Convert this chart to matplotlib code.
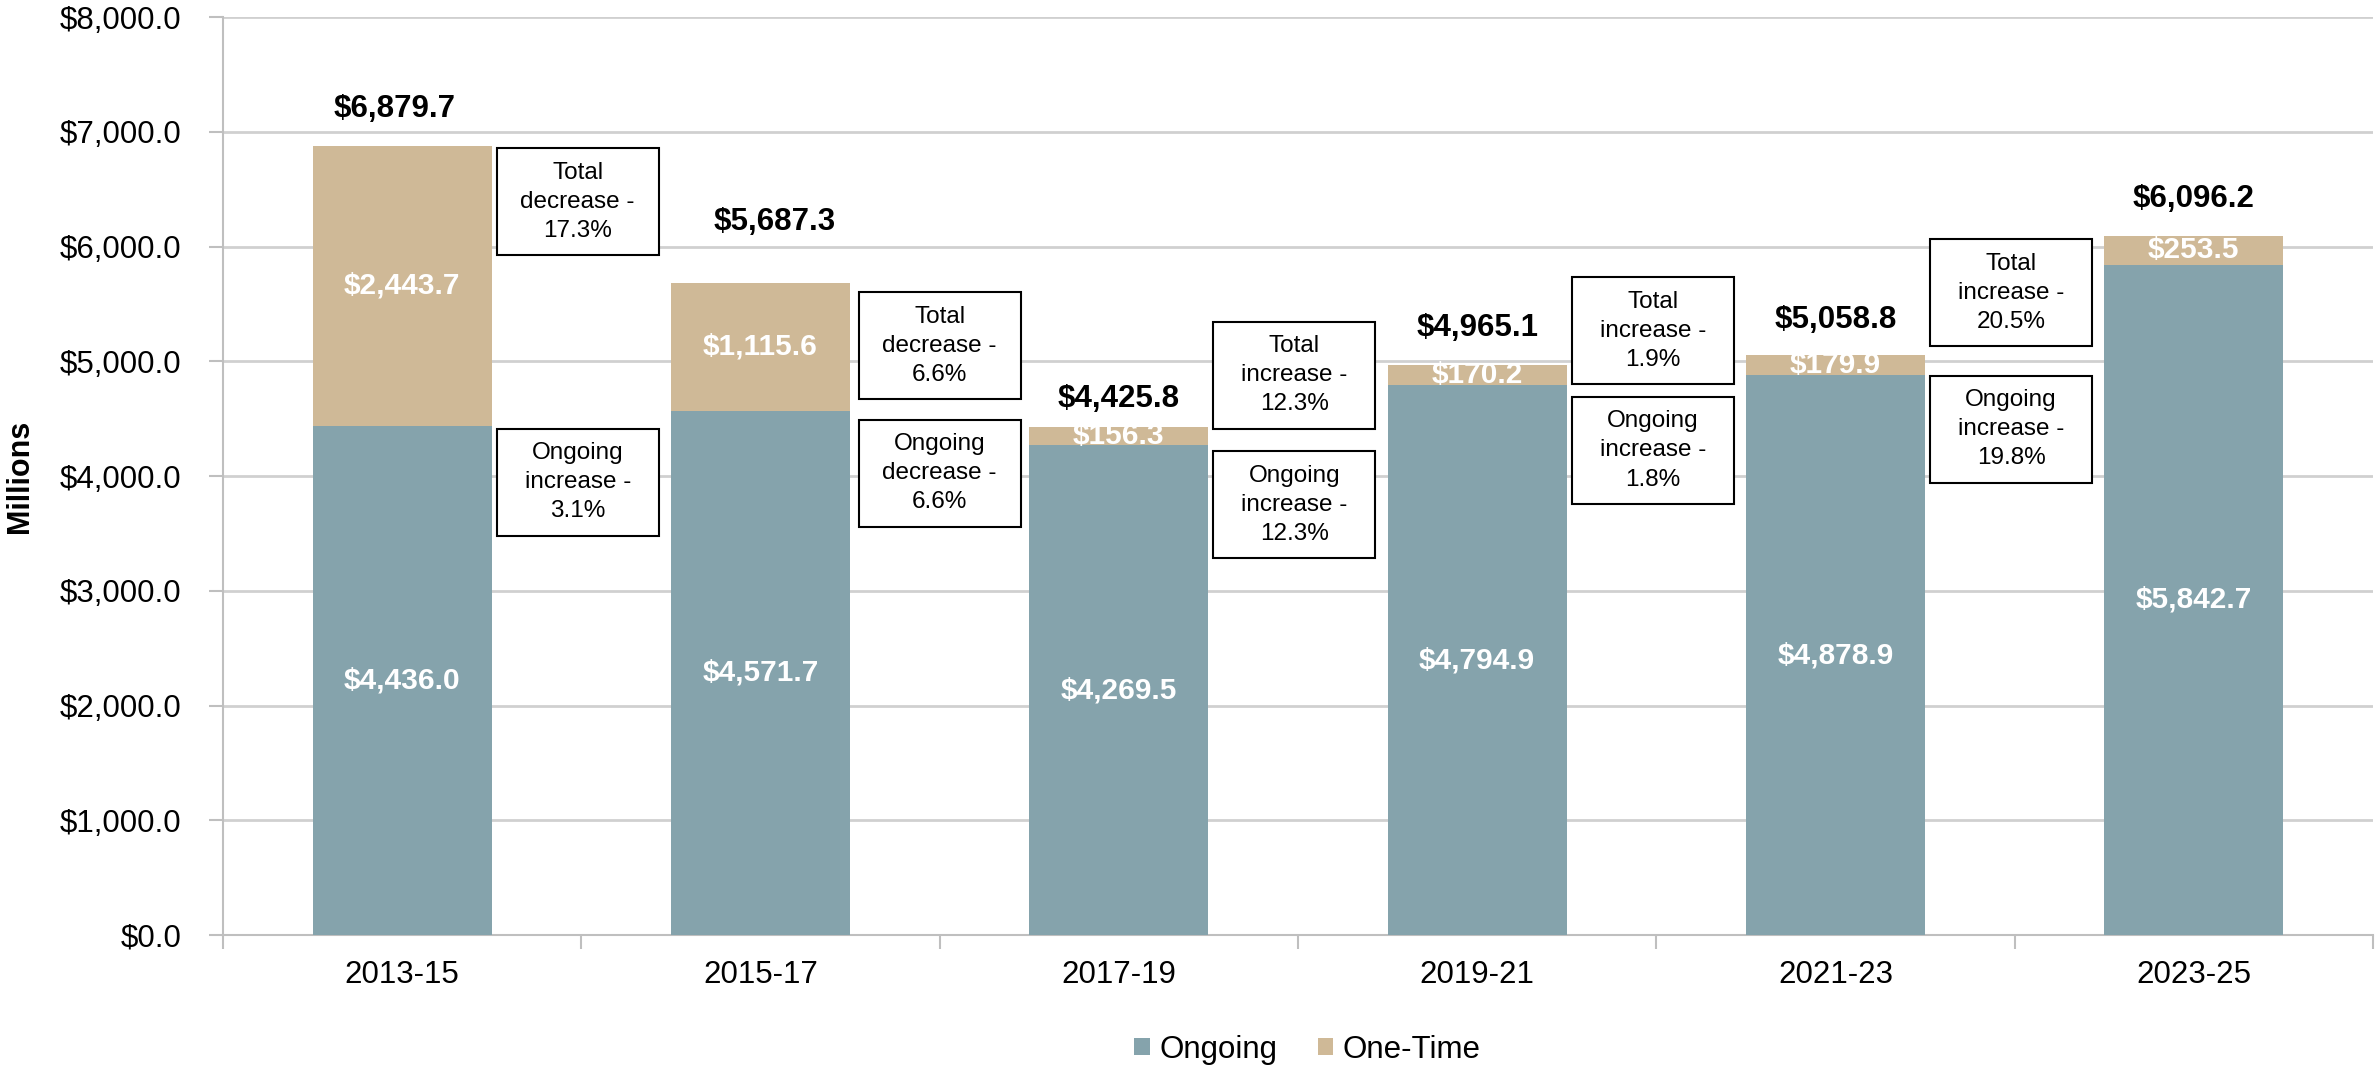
import matplotlib
matplotlib.use("Agg")
import matplotlib.pyplot as plt
from matplotlib.patches import Rectangle
import numpy as np

plt.rcParams['font.family'] = ['Liberation Sans', 'DejaVu Sans']

categories = ["2013-15", "2015-17", "2017-19", "2019-21", "2021-23", "2023-25"]
ongoing = [4436.0, 4571.7, 4269.5, 4794.9, 4878.9, 5842.7]
one_time = [2443.7, 1115.6, 156.3, 170.2, 179.9, 253.5]
totals = [6879.7, 5687.3, 4425.8, 4965.1, 5058.8, 6096.2]
total_label_y = [7195, 6218, 4673, 5290, 5360, 6416]
total_label_dx = [-0.02, 0.04, 0.0, 0.0, 0.0, 0.0]

change_x = [0.49, 1.50, 2.49, 3.49, 4.49]
total_change_text = ["Total\ndecrease -\n17.3%", "Total\ndecrease -\n6.6%", "Total\nincrease -\n12.3%",
                     "Total\nincrease -\n1.9%", "Total\nincrease -\n20.5%"]
total_change_y = [6392, 5135, 4880, 5267, 5597]
ongoing_change_text = ["Ongoing\nincrease -\n3.1%", "Ongoing\ndecrease -\n6.6%", "Ongoing\nincrease -\n12.3%",
                       "Ongoing\nincrease -\n1.8%", "Ongoing\nincrease -\n19.8%"]
ongoing_change_y = [3947, 4026, 3749, 4224, 4409]

c_ongoing = "#85A3AC"
c_onetime = "#CFB997"

fig = plt.figure(figsize=(23.77, 10.70), dpi=100)
ax = fig.add_axes([0.0938, 0.126, 0.9045, 0.858])

x = np.arange(len(categories))
w = 0.5
ax.bar(x, ongoing, w, color=c_ongoing, label="Ongoing", zorder=3)
ax.bar(x, one_time, w, bottom=ongoing, color=c_onetime, label="One-Time", zorder=3)

for i in range(len(categories)):
    ax.text(x[i], ongoing[i] / 2, f"${ongoing[i]:,.1f}", ha="center", va="center",
            color="white", fontsize=21.5, fontweight="bold", zorder=4)
    ax.text(x[i], ongoing[i] + one_time[i] / 2, f"${one_time[i]:,.1f}", ha="center", va="center",
            color="white", fontsize=21.5, fontweight="bold", zorder=4)
    ax.text(x[i] + total_label_dx[i], total_label_y[i], f"${totals[i]:,.1f}", ha="center", va="center",
            color="black", fontsize=22.5, fontweight="bold", zorder=4)

bw, bh = 0.452, 932
for i in range(len(change_x)):
    for txt, yc in ((total_change_text[i], total_change_y[i]), (ongoing_change_text[i], ongoing_change_y[i])):
        ax.add_patch(Rectangle((change_x[i] - bw / 2, yc - bh / 2), bw, bh, facecolor="white",
                               edgecolor="black", linewidth=1.5, zorder=5))
        ax.text(change_x[i], yc, txt, ha="center", va="center", fontsize=17.5,
                linespacing=1.42, zorder=6)

ax.set_xlim(-0.5, 5.5)
ax.set_ylim(0, 8000)
ax.set_yticks(np.arange(0, 8001, 1000))
ax.set_yticklabels([f"${v:,.1f}" for v in np.arange(0, 8001, 1000)])
ax.set_xticks(x)
ax.set_xticklabels(categories)
ax.set_xticks(np.arange(-0.5, 5.6, 1), minor=True)
ax.tick_params(axis="x", which="major", length=0, labelsize=22.5, pad=18)
ax.tick_params(axis="x", which="minor", length=10, width=1.5, color="#BFBFBF", direction="out")
ax.tick_params(axis="y", length=10, width=1.5, color="#BFBFBF", labelsize=22.5, pad=20)
ax.grid(axis="y", color="#D0D0D0", linewidth=2, zorder=0)
for s in ("top", "right"):
    ax.spines[s].set_visible(False)
for s in ("left", "bottom"):
    ax.spines[s].set_color("#BFBFBF")
    ax.spines[s].set_linewidth(1.5)
ax.set_ylabel("Millions", fontsize=22, fontweight="bold", labelpad=18)

leg = fig.legend(loc="center", bbox_to_anchor=(0.550, 0.019), ncol=2, frameon=False,
                 fontsize=22.5, handlelength=0.5, handleheight=0.5, handletextpad=0.3,
                 columnspacing=1.3, borderaxespad=0)

fig.savefig("out.png", dpi=100)
